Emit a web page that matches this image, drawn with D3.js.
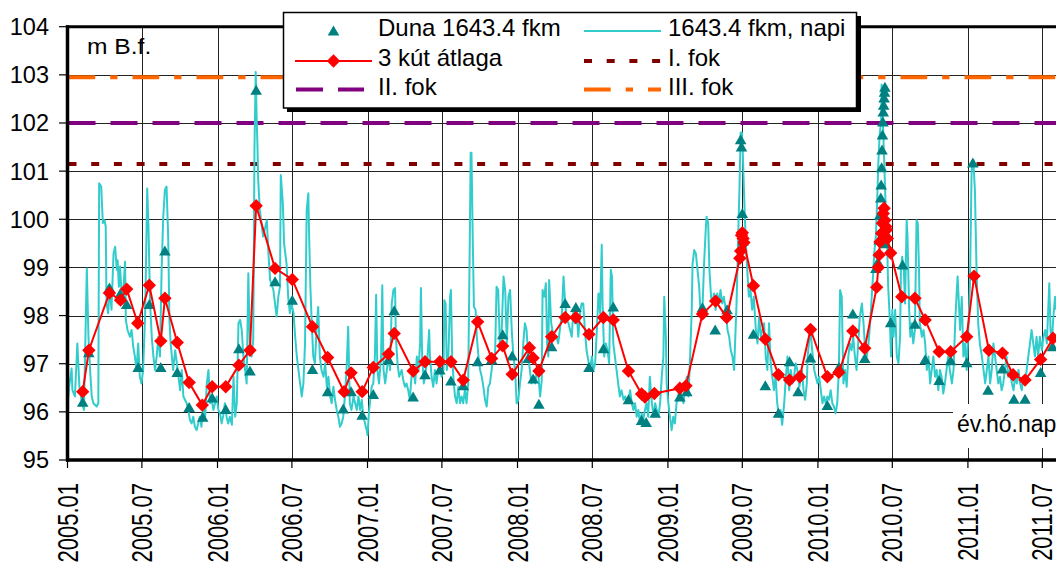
<!DOCTYPE html>
<html><head><meta charset="utf-8">
<script src="https://cdn.jsdelivr.net/npm/d3@7"></script>
<style>
html,body{margin:0;padding:0;background:#fff;overflow:hidden}
text{font-family:"Liberation Sans",Arial,sans-serif;fill:#000}
</style></head>
<body><svg id="c" width="1056" height="564"></svg>
<script>
(function(){
// ---------- data ----------
const startDate = Date.UTC(2005, 0, 1);            // day offsets are counted from 2005-01-01
const yTicks = [95, 96, 97, 98, 99, 100, 101, 102, 103, 104];
const xTickLabels = ["2005.01","2005.07","2006.01","2006.07","2007.01","2007.07","2008.01",
  "2008.07","2009.01","2009.07","2010.01","2010.07","2011.01","2011.07"];
const yUnit = "m B.f.";
const xUnit = "év.hó.nap";
const seriesNames = ["Duna 1643.4 fkm", "1643.4 fkm, napi", "3 kút átlaga", "I. fok", "II. fok", "III. fok"];
const thresholdLevels = [101.15, 102.0, 102.95];   // I., II., III. fok

// 1643.4 fkm, napi  [day offset, m B.f.]
const napi = [[0,96.07],[4,96.52],[10,96.9],[12,96.45],[18,96.32],[24,97.42],[29,96.52],[34,96.25],[40,96.04],[47,98.98],[51,97.56],[55,96.87],[59,96.32],[63,96.18],[71,96.11],[75,96.18],[77,100.75],[82,100.68],[86,99.92],[90,99.98],[93,99.85],[95,98.25],[99,98.05],[103,98.6],[107,98.12],[112,99.29],[116,99.43],[120,98.95],[122,99.15],[125,98.6],[128,99.02],[132,98.39],[136,98.53],[140,99.12],[142,97.91],[146,97.7],[152,97.56],[156,97.7],[160,97.35],[164,97.15],[168,96.87],[172,97.42],[176,96.73],[180,96.59],[184,96.87],[189,98.05],[194,100.64],[197,99.85],[201,98.25],[205,97.56],[209,97.15],[213,96.87],[217,97.15],[221,97.56],[225,97.15],[229,98.95],[233,100.05],[237,100.61],[241,100.68],[245,99.64],[248,97.91],[251,97.42],[254,97.15],[257,96.87],[262,97.28],[266,97.01],[270,96.73],[274,96.45],[278,96.87],[282,96.32],[290,96.18],[294,96.04],[298,95.83],[302,95.76],[306,95.9],[310,95.69],[314,95.62],[318,95.76],[322,95.9],[326,95.69],[331,96.18],[335,95.9],[339,96.59],[343,96.87],[347,96.18],[351,96.25],[355,96.04],[359,96.18],[363,96.32],[367,96.04],[371,95.97],[375,95.76],[379,95.93],[383,96.18],[387,95.9],[391,95.76],[395,95.9],[400,95.73],[404,96.73],[408,95.9],[412,96.18],[416,97.84],[420,97.91],[424,97.7],[428,97.15],[432,96.87],[436,96.59],[440,98.88],[444,97.28],[448,97.15],[452,97.5],[455,101.5],[458,103.06],[460,102.2],[462,101.6],[464,100.82],[468,100.19],[476,99.64],[485,99.98],[489,99.29],[493,98.74],[501,98.53],[505,98.25],[509,97.98],[513,98.39],[517,98.6],[519,100.92],[524,100.33],[527,99.5],[533,99.08],[537,98.39],[541,98.05],[545,98.25],[550,98.05],[554,97.56],[558,97.15],[562,96.87],[566,96.59],[570,96.32],[574,96.59],[578,97.42],
[582,100.19],[586,100.54],[588,99.64],[591,98.6],[594,97.91],[598,97.15],[602,97.01],[606,97.7],[610,98.18],[614,97.15],[618,96.87],[623,96.73],[627,97.01],[631,96.52],[635,96.73],[639,96.32],[643,96.18],[647,96.52],[651,96.25],[655,96.04],[659,95.9],[663,95.69],[667,95.76],[671,95.9],[675,96.32],[679,96.87],[683,97.77],[687,96.18],[691,96.04],[696,96.32],[700,96.18],[704,96.04],[708,96.32],[712,96.04],[716,96.25],[720,95.9],[724,95.76],[728,95.62],[730,95.52],[734,96.04],[736,96.18],[740,96.52],[744,96.59],[748,97.15],[751,98.43],[754,96.87],[758,96.59],[763,97.15],[766,98.63],[769,96.87],[773,96.59],[777,96.87],[781,97.15],[785,96.87],[789,98.25],[793,98.53],[797,98.57],[799,97.56],[803,97.01],[807,96.73],[813,96.87],[817,96.66],[821,96.52],[825,96.59],[829,96.45],[833,96.25],[837,96.73],[842,96.87],[846,96.59],[850,97.15],[854,96.87],[858,97.42],[860,98.57],[863,97.15],[867,96.59],[872,96.87],[876,97.15],[880,97.7],[882,97.15],[886,96.73],[890,96.52],[894,96.87],[898,96.59],[902,96.87],[906,97.01],[910,96.73],[915,96.87],[917,98.32],[920,98.25],[923,96.87],[927,97.22],[931,98.39],[933,98.53],[936,97.15],[940,96.59],[943,96.32],[947,96.18],[951,96.52],[955,96.18],[959,96.32],[963,96.18],[967,96.45],[971,96.18],[975,96.59],[979,99.64],[981,101.38],[983,101.38],[986,99.64],[989,98.18],[993,98.12],[996,97.56],[1000,97.15],[1004,96.87],[1008,96.73],[1012,96.52],[1016,96.25],[1020,96.11],[1024,96.52],[1028,96.59],[1032,96.87],[1036,97.15],[1040,97.01],[1044,98.6],[1048,98.53],[1052,97.42],[1056,97.56],[1061,98.81],[1065,98.53],[1069,97.42],[1073,98.39],[1077,98.53],[1081,97.7],[1085,97.15],[1089,96.87],[1093,96.18],[1097,96.25],[1101,96.59],[1105,96.87],[1109,97.42],[1113,97.84],[1117,97.7],[1121,97.15],[1125,96.87],[1129,96.59],[1134,96.73],[1138,96.59],[1142,96.87],[1146,96.73],[1150,96.32],[1154,96.66],[1156,98.53],[1160,98.39],[1164,98.67],[1167,97.42],[1170,97.15],[1172,98.74],[1177,97.84],[1180,97.7],[1185,97.56],
[1190,97.56],[1194,97.42],[1198,97.7],[1203,98.05],[1207,98.81],[1211,98.25],[1215,97.91],[1219,97.84],[1223,97.7],[1227,97.56],[1231,98.12],[1235,97.84],[1239,98.05],[1243,97.56],[1247,98.05],[1251,98.25],[1255,98.25],[1259,97.7],[1263,97.28],[1267,97.08],[1271,96.87],[1276,97.15],[1280,96.87],[1284,97.01],[1288,97.7],[1292,98.46],[1296,98.05],[1300,99.47],[1302,98.25],[1306,97.15],[1310,97.42],[1314,97.28],[1318,97.01],[1322,98.95],[1325,98.81],[1328,97.42],[1332,97.15],[1336,96.87],[1340,96.59],[1344,96.32],[1348,96.45],[1353,96.25],[1357,96.32],[1361,96.18],[1365,96.25],[1369,96.45],[1373,96.18],[1377,96.04],[1381,96.18],[1385,95.9],[1389,96.04],[1393,95.76],[1397,95.97],[1401,95.83],[1405,96.04],[1409,96.18],[1413,95.9],[1417,96.73],[1422,96.18],[1426,95.9],[1430,96.18],[1434,96.04],[1438,95.9],[1442,96.18],[1446,96.73],[1450,97.15],[1452,98.39],[1456,97.56],[1458,96.59],[1462,96.18],[1466,95.9],[1470,95.62],[1474,95.9],[1478,95.76],[1482,96.18],[1486,96.32],[1490,96.59],[1494,96.32],[1499,96.18],[1503,96.52],[1507,96.73],[1511,96.32],[1515,97.15],[1519,98.12],[1521,99.08],[1525,99.36],[1529,99.29],[1533,98.95],[1537,98.6],[1541,97.98],[1545,98.12],[1549,99.08],[1553,99.78],[1555,100.05],[1559,99.92],[1562,98.95],[1566,98.39],[1570,98.25],[1573,98.46],[1577,98.12],[1581,98.46],[1585,98.25],[1589,98.53],[1593,98.25],[1597,98.39],[1602,98.12],[1606,97.7],[1610,97.56],[1614,97.28],[1618,97.15],[1622,96.87],[1625,97.56],[1628,98.25],[1632,99.64],[1635,100.61],[1638,101.8],[1641,101.8],[1643,101.44],[1646,100.61],[1650,99.64],[1654,98.95],[1658,98.39],[1662,98.53],[1666,98.12],[1670,98.39],[1675,97.7],[1679,97.42],[1683,97.98],[1687,97.56],[1691,97.7],[1695,97.84],[1699,97.15],[1703,96.87],[1707,97.84],[1711,97.01],[1715,96.73],[1719,96.45],[1723,96.73],[1727,96.18],[1731,95.9],[1735,96.04],[1739,95.73],[1744,96.18],[1748,96.73],[1752,97.15],[1756,96.45],[1760,96.87],[1764,96.59],[1768,96.73],[1772,97.01],[1776,96.87],[1781,96.52],
[1787,96.87],[1791,96.45],[1795,96.25],[1799,96.59],[1801,97.15],[1804,97.42],[1808,97.7],[1812,97.28],[1817,96.87],[1821,96.73],[1825,96.59],[1829,96.73],[1833,96.45],[1837,96.18],[1841,96.32],[1845,96.18],[1849,96.32],[1853,96.25],[1857,96.45],[1861,96.18],[1865,96.11],[1869,95.97],[1873,96.18],[1877,96.87],[1880,98.53],[1884,98.39],[1888,96.59],[1892,96.87],[1896,96.52],[1900,97.15],[1904,97.42],[1908,97.28],[1912,97.56],[1916,97.15],[1920,96.87],[1924,97.42],[1928,97.98],[1933,98.25],[1937,97.84],[1941,97.28],[1945,97.15],[1949,97.42],[1953,97.84],[1957,98.39],[1961,98.95],[1963,99.29],[1967,99.64],[1970,100.33],[1973,101.16],[1976,101.72],[1980,102.06],[1981,102.8],[1984,102.06],[1988,101.02],[1991,100.19],[1994,99.64],[1997,98.6],[2001,97.91],[2004,97.15],[2007,98.12],[2010,97.56],[2014,98.12],[2018,97.15],[2022,97.01],[2026,97.56],[2028,98.95],[2031,99.22],[2035,98.95],[2038,98.25],[2042,99.98],[2044,99.64],[2048,98.12],[2051,97.56],[2054,97.84],[2058,97.42],[2062,97.7],[2066,99.98],[2069,99.92],[2072,98.95],[2074,97.84],[2079,97.56],[2083,97.7],[2087,97.42],[2091,96.87],[2095,97.15],[2099,96.59],[2103,96.87],[2107,97.15],[2111,96.73],[2115,96.87],[2119,96.45],[2123,96.87],[2127,96.73],[2131,96.38],[2135,96.59],[2139,96.87],[2143,97.15],[2147,96.87],[2152,96.59],[2156,96.87],[2160,97.84],[2164,98.53],[2166,98.81],[2169,98.25],[2172,97.7],[2176,98.39],[2180,97.15],[2184,97.42],[2188,96.87],[2192,97.7],[2196,98.67],[2200,101.02],[2203,101.16],[2204,101.23],[2208,100.61],[2212,98.95],[2216,97.84],[2220,97.42],[2225,97.15],[2229,96.87],[2233,96.59],[2237,96.87],[2241,97.15],[2245,96.59],[2249,96.87],[2253,97.42],[2257,97.15],[2261,96.87],[2265,96.59],[2269,96.73],[2273,96.45],[2277,96.59],[2281,96.87],[2285,97.15],[2289,96.73],[2293,96.87],[2298,96.59],[2302,96.45],[2306,96.73],[2310,96.59],[2314,96.87],[2318,96.59],[2322,96.45],[2326,96.73],[2330,96.59],[2334,96.87],[2338,97.15],[2342,97.42],[2346,97.7],[2350,97.42],[2354,97.15],[2358,97.56],[2362,97.15],[2366,97.56],[2371,97.28],[2375,97.56],[2379,97.7],[2383,97.42],[2387,98.25],[2389,98.67],[2392,97.7],[2395,97.42],[2399,97.98],[2403,98.39],[2405,98.12]];

// Duna 1643.4 fkm (measurements)  [day offset, m B.f.]
const duna = [[37,96.2],[52,97.23],[102,98.57],[128,98.45],[144,98.23],[172,96.92],[199,98.23],[227,96.92],[237,99.34],[267,96.82],[296,96.09],[329,95.89],[352,96.29],[385,96.05],[417,97.31],[444,96.85],[459,102.68],[505,98.7],[547,98.32],[596,96.88],[633,96.42],[671,96.06],[690,96.42],[717,95.93],[744,96.36],[781,97.08],[795,98.1],[841,96.31],[870,96.77],[906,96.87],[933,96.64],[963,96.54],[998,97.04],[1032,97.08],[1059,97.6],[1082,97.16],[1121,97.11],[1133,96.68],[1147,96.16],[1178,97.35],[1211,98.25],[1237,98.17],[1269,96.92],[1304,97.31],[1328,98.18],[1365,96.25],[1397,95.82],[1408,95.78],[1430,95.97],[1490,96.31],[1507,96.42],[1545,98.16],[1576,97.7],[1605,98.12],[1638,101.65],[1640,101.5],[1642,100.12],[1644,99.55],[1669,97.61],[1698,96.54],[1730,95.97],[1757,97.04],[1778,96.42],[1808,97.12],[1849,96.13],[1877,96.92],[1911,98.03],[1940,97.11],[1967,98.98],[1972,99.11],[1975,99.57],[1977,100.09],[1979,100.44],[1980,100.71],[1981,101.07],[1982,101.44],[1983,101.75],[1984,102.02],[1985,102.23],[1986,102.37],[1987,102.52],[1988,102.64],[1989,102.74],[1992,99.49],[2003,97.85],[2032,99.05],[2062,97.82],[2087,97.08],[2121,96.65],[2149,97.06],[2188,97.02],[2203,101.17],[2240,96.45],[2275,96.89],[2303,96.26],[2330,96.26],[2368,96.82],[2397,97.35]];

// 3 kút átlaga (average of three wells)  [day offset, m B.f.]
const kutAtlag = [[37,96.42],[52,97.28],[102,98.47],[129,98.32],[144,98.55],[171,97.84],[199,98.63],[227,97.47],[237,98.36],[267,97.44],[296,96.61],[328,96.14],[352,96.52],[385,96.52],[417,96.97],[444,97.28],[459,100.28],[505,98.98],[547,98.75],[596,97.77],[633,97.13],[673,96.42],[690,96.81],[717,96.42],[744,96.92],[781,97.2],[795,97.63],[841,96.85],[870,97.04],[906,97.04],[933,97.04],[963,96.66],[998,97.87],[1032,97.11],[1059,97.37],[1082,96.78],[1124,97.33],[1133,97.12],[1147,96.85],[1178,97.56],[1211,97.96],[1237,97.96],[1269,97.61],[1304,97.96],[1328,97.91],[1365,96.85],[1397,96.37],[1405,96.31],[1428,96.38],[1490,96.49],[1505,96.54],[1545,98.03],[1577,98.3],[1604,97.96],[1636,99.19],[1638,99.34],[1640,99.67],[1642,99.72],[1644,99.6],[1646,99.52],[1669,98.62],[1698,97.51],[1730,96.77],[1757,96.66],[1782,96.73],[1808,97.71],[1849,96.73],[1877,96.82],[1911,97.68],[1940,97.32],[1969,98.59],[1973,99.0],[1975,99.26],[1977,99.53],[1981,99.71],[1983,99.92],[1985,100.12],[1987,100.23],[1989,99.98],[1991,99.85],[1993,99.78],[1995,99.6],[2003,99.3],[2030,98.39],[2062,98.36],[2087,97.91],[2121,97.25],[2149,97.25],[2188,97.56],[2206,98.82],[2242,97.28],[2275,97.22],[2301,96.77],[2330,96.66],[2368,97.09],[2398,97.53]];

// ---------- styles ----------
const C = {napi:"#33CCCC", duna:"#008080", kut:"#FF0000", fok:["#800000","#800080","#FF6600"]};
const fokDash = ["8,14.7", "27,15", "26.7,15,7.3,15"];

// ---------- chart ----------
const svg = d3.select("#c");
const toDate = d => new Date(startDate + d * 864e5);
const x = d3.scaleTime()
  .domain([new Date(Date.UTC(2005,0,1)), new Date(Date.UTC(2011,6,1))])
  .range([67.5, 1042.3]);
const y = d3.scaleLinear().domain([95, 104]).range([460, 26.7]);
const pL = x.range()[0], pR = 1100, pT = y(104), pB = y(95);
const tickDates = xTickLabels.map(s => { const [yy, mm] = s.split(".").map(Number); return new Date(Date.UTC(yy, mm-1, 1)); });

// grid
const g = svg.append("g");
g.selectAll("line.hg").data(yTicks.filter(v => v > 95 && v < 104)).join("line")
  .attr("x1", pL).attr("x2", pR).attr("y1", d => Math.round(y(d))+0.5).attr("y2", d => Math.round(y(d))+0.5)
  .attr("stroke", "#222").attr("stroke-width", 1);
g.selectAll("line.vg").data(tickDates.slice(1)).join("line")
  .attr("x1", d => Math.round(x(d))+0.5).attr("x2", d => Math.round(x(d))+0.5).attr("y1", pT).attr("y2", pB)
  .attr("stroke", "#222").attr("stroke-width", 1);

// x unit label box (hides grid)
svg.append("rect").attr("x", 953).attr("y", 404).attr("width", 120).attr("height", 44).attr("fill", "#fff");
svg.append("text").attr("x", 957).attr("y", 432).attr("font-size", 23).text(xUnit);

// threshold lines
svg.selectAll("line.fok").data(thresholdLevels).join("line")
  .attr("x1", pL+1).attr("x2", pR).attr("y1", d => y(d)).attr("y2", d => y(d))
  .attr("stroke", (d,i) => C.fok[i]).attr("stroke-width", 4).attr("stroke-dasharray", (d,i) => fokDash[i]);

// daily line
svg.append("path").datum(napi)
  .attr("d", d3.line().x(d => x(toDate(d[0]))).y(d => y(d[1])))
  .attr("fill", "none").attr("stroke", C.napi).attr("stroke-width", 2).attr("stroke-linejoin", "round");

// triangles
const tri = "M0,-5.5L5.8,4.5L-5.8,4.5Z";
svg.selectAll("path.duna").data(duna).join("path")
  .attr("d", tri).attr("transform", d => `translate(${x(toDate(d[0]))},${y(d[1])})`).attr("fill", C.duna);

// red line + diamonds
const dia = "M0,-6.7L6.7,0L0,6.7L-6.7,0Z";
svg.append("path").datum(kutAtlag)
  .attr("d", d3.line().x(d => x(toDate(d[0]))).y(d => y(d[1])))
  .attr("fill", "none").attr("stroke", C.kut).attr("stroke-width", 2);
svg.selectAll("path.kut").data(kutAtlag).join("path")
  .attr("d", dia).attr("transform", d => `translate(${x(toDate(d[0]))},${y(d[1])})`).attr("fill", C.kut);

// axes / frame
svg.append("line").attr("x1", pL).attr("x2", pL).attr("y1", pT-1.5).attr("y2", pB+1.5).attr("stroke", "#000").attr("stroke-width", 3.5);
svg.append("line").attr("x1", pL-1.5).attr("x2", pR).attr("y1", pB).attr("y2", pB).attr("stroke", "#000").attr("stroke-width", 3.5);
svg.append("line").attr("x1", pL-1.5).attr("x2", pR).attr("y1", pT).attr("y2", pT).attr("stroke", "#000").attr("stroke-width", 3);

// y ticks + labels
svg.selectAll("line.yt").data(yTicks).join("line")
  .attr("x1", 59).attr("x2", pL).attr("y1", d => y(d)).attr("y2", d => y(d)).attr("stroke", "#000").attr("stroke-width", 1.2);
svg.selectAll("text.yl").data(yTicks).join("text")
  .attr("x", 49).attr("y", d => y(d)).attr("dy", "0.36em").attr("text-anchor", "end").attr("font-size", 23.5).text(d => d);

// x ticks + labels
svg.selectAll("line.xt").data(tickDates).join("line")
  .attr("x1", d => x(d)).attr("x2", d => x(d)).attr("y1", pB).attr("y2", pB+8).attr("stroke", "#000").attr("stroke-width", 1.2);
svg.selectAll("text.xl").data(tickDates).join("text")
  .attr("transform", d => `translate(${x(d)+10},483) rotate(-90) scale(1,1.3)`)
  .attr("text-anchor", "end").attr("font-size", 22).text((d,i) => xTickLabels[i]);

// y unit
svg.append("text").attr("transform", "translate(87,54) scale(1.12,1)").attr("font-size", 22).text(yUnit);

// legend
const L = svg.append("g");
L.append("rect").attr("x", 287).attr("y", 16).attr("width", 574).attr("height", 96).attr("fill", "#000");
L.append("rect").attr("x", 283.5).attr("y", 12.5).attr("width", 573).attr("height", 95.5).attr("fill", "#fff").attr("stroke", "#000").attr("stroke-width", 1.5);
const rows = [31, 61, 89.5], base = [36, 66, 95], c1 = [295, 372], c2 = [584, 661], t1 = 378, t2 = 668;
L.append("path").attr("d", tri).attr("transform", `translate(${(c1[0]+c1[1])/2},${rows[0]})`).attr("fill", C.duna);
L.append("line").attr("x1", c2[0]).attr("x2", c2[1]).attr("y1", rows[0]).attr("y2", rows[0]).attr("stroke", C.napi).attr("stroke-width", 2);
L.append("line").attr("x1", c1[0]).attr("x2", c1[1]).attr("y1", rows[1]).attr("y2", rows[1]).attr("stroke", C.kut).attr("stroke-width", 2);
L.append("path").attr("d", dia).attr("transform", `translate(${(c1[0]+c1[1])/2},${rows[1]})`).attr("fill", C.kut);
L.append("line").attr("x1", c2[0]).attr("x2", c2[1]).attr("y1", rows[1]).attr("y2", rows[1]).attr("stroke", C.fok[0]).attr("stroke-width", 4).attr("stroke-dasharray", fokDash[0]);
L.append("line").attr("x1", c1[0]+1).attr("x2", c1[1]-8).attr("y1", rows[2]).attr("y2", rows[2]).attr("stroke", C.fok[1]).attr("stroke-width", 4).attr("stroke-dasharray", fokDash[1]);
L.append("line").attr("x1", c2[0]).attr("x2", c2[1]).attr("y1", rows[2]).attr("y2", rows[2]).attr("stroke", C.fok[2]).attr("stroke-width", 4).attr("stroke-dasharray", fokDash[2]);
const legText = [[t1, base[0], seriesNames[0]], [t2, base[0], seriesNames[1]], [t1, base[1], seriesNames[2]],
  [t2, base[1], seriesNames[3]], [t1, base[2], seriesNames[4]], [t2, base[2], seriesNames[5]]];
L.selectAll("text").data(legText).join("text").attr("x", d => d[0]).attr("y", d => d[1])
  .attr("font-size", 24).text(d => d[2]);
})();
</script></body></html>
